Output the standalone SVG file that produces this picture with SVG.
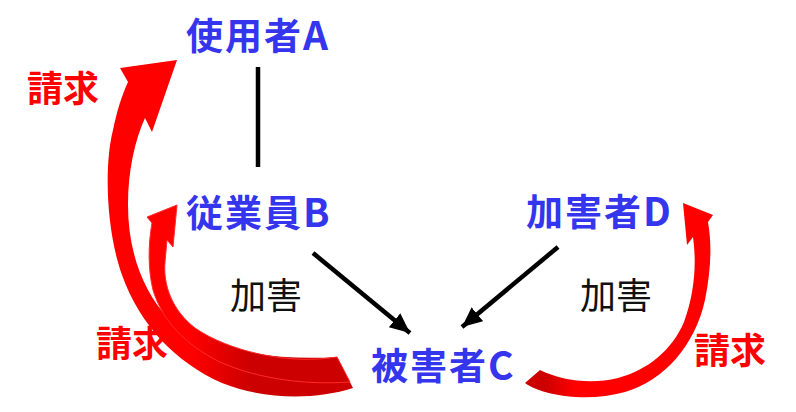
<svg xmlns="http://www.w3.org/2000/svg" width="796" height="412" viewBox="0 0 796 412">
<defs>
<style>
.node{font-family:"Noto Sans CJK JP","Noto Sans",sans-serif;font-weight:700;font-size:37px;letter-spacing:2px;fill:#3535ee}
.lat{font-size:39px}
.lbl{font-family:"Noto Sans CJK JP",sans-serif;font-weight:400;font-size:36px;fill:#111}
.req{font-family:"Noto Sans CJK JP",sans-serif;font-weight:700;font-size:36px;fill:#f00}
.conn{stroke:#000;stroke-width:4.5;fill:none}
.edge{stroke:#ff2a2a;stroke-width:1}
</style>
<marker id="ah" markerUnits="userSpaceOnUse" markerWidth="22" markerHeight="20" refX="20" refY="9" orient="auto"><path d="M0,0 L20,9 L0,18 Z" fill="#000"/></marker>
<linearGradient id="g1" gradientUnits="userSpaceOnUse" x1="190" y1="0" x2="250" y2="0"><stop offset="0" stop-color="#ff0000"/><stop offset="1" stop-color="#cc0000"/></linearGradient>
<linearGradient id="g3" gradientUnits="userSpaceOnUse" x1="545" y1="0" x2="575" y2="0"><stop offset="0" stop-color="#cc0000"/><stop offset="1" stop-color="#ff0000"/></linearGradient>
</defs>
<rect width="796" height="412" fill="#fff"/>
<g id="connectors">
<line class="conn" x1="258" y1="67" x2="258" y2="167"/>
<line class="conn" x1="313" y1="253" x2="410" y2="333" marker-end="url(#ah)"/>
<line class="conn" x1="558" y1="247" x2="462" y2="327" marker-end="url(#ah)"/>
<path id="claimA" fill="url(#g1)" d="M353,388 C315,400 265,400 222,383 C175,362 140,325 122,275 C106,230 104,165 113,130 C117,110 122,95 128,82 L120,68 L177,60 L152,132 L145,118 C135,140 128,170 128,205 C128,250 142,290 168,318 C200,345 260,362 337,357 Z"/>
<path id="claimB" class="edge" fill="url(#g1)" d="M337,357 C290,365 230,352 195,328 C172,310 163,285 165,262 L167,240 L173,247 L177,205 L147,217 L152,223 C148,245 148,270 153,290 C162,320 185,345 220,362 C260,380 310,385 350,382 Z"/>
<path id="claimD" fill="url(#g3)" d="M525,383 C545,397 590,402 625,392 C665,380 695,345 705,300 C711,270 712,245 708,222 L713,215 L683,203 L687,245 L693,237 C697,265 694,295 684,322 C672,350 648,370 618,378 C590,385 560,380 540,370 Z"/>
<text class="lbl" x="230" y="309">加害</text>
<text class="lbl" x="580" y="309">加害</text>
<text class="req" x="27" y="102">請求</text>
<text class="req" x="96" y="357">請求</text>
<text class="req" x="694" y="364">請求</text>
</g>
<g id="nodeA"><text class="node" x="186" y="50">使用者<tspan class="lat">A</tspan></text></g>
<g id="nodeB"><text class="node" x="186" y="227">従業員<tspan class="lat">B</tspan></text></g>
<g id="nodeC"><text class="node" x="371" y="380">被害者<tspan class="lat">C</tspan></text></g>
<g id="nodeD"><text class="node" x="526" y="226">加害者<tspan class="lat">D</tspan></text></g>
</svg>
